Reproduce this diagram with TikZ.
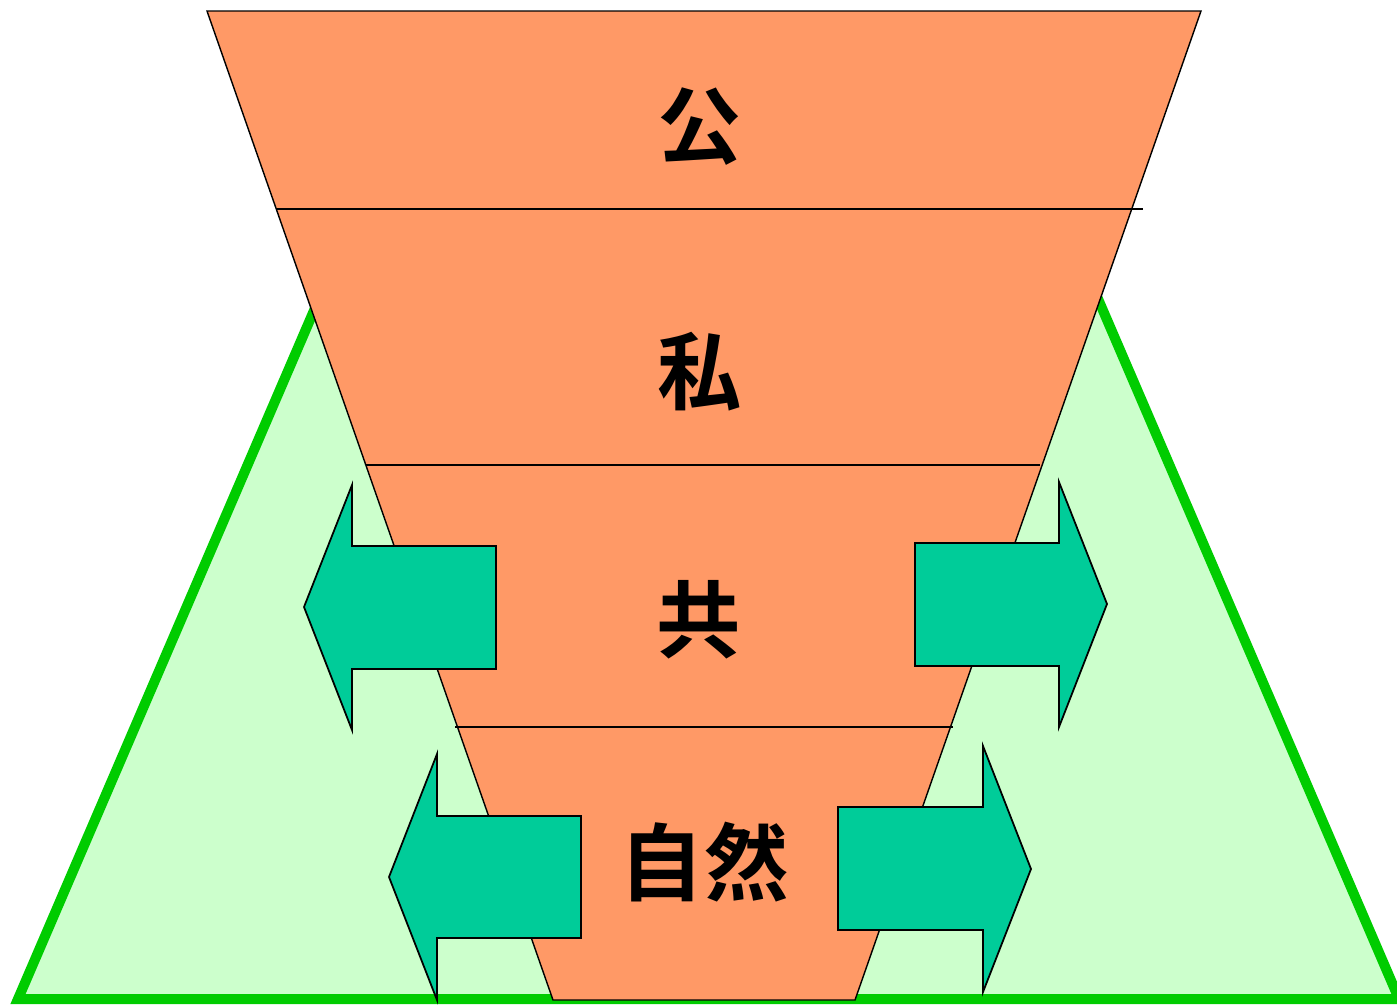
\documentclass[tikz,border=0pt]{standalone}
\usepackage{fontspec}
\newfontfamily\jpfont{Noto Sans CJK JP}[UprightFont=* Bold]
\definecolor{salmon}{HTML}{FF9966}
\definecolor{palegreen}{HTML}{CCFFCC}
\definecolor{rimgreen}{HTML}{00CC00}
\definecolor{arrowgreen}{HTML}{00CC99}
\begin{document}
\begin{tikzpicture}[x=0.02cm,y=-0.02cm,
  arr/.style={draw,line width=1pt,fill=arrowgreen},
  lbl/.style={font=\jpfont\fontsize{48}{48}\selectfont}]
\useasboundingbox (0,0) rectangle (1397,1005);
% green base, top part hidden behind the funnel
\draw[line width=0.2cm,draw=rimgreen,fill=palegreen] (18,999) -- (340,250) -- (1077,250) -- (1399,999) -- cycle;
\draw[fill=salmon,line width=0.8pt] (207,11) -- (1201,11) -- (855,1000) -- (553,1000) -- cycle;
\draw[line width=0.8pt] (276,209) -- (1143,209);
\draw[line width=0.8pt] (366,465) -- (1040,465);
\draw[line width=0.8pt] (455,727) -- (953,727);
%\draw (207,11) -- (553,1000);
\draw[arr] (304,607) -- (352,485) -- (352,546) -- (496,546) -- (496,669) -- (352,669) -- (352,730) -- cycle;
\draw[arr] (1107,604) -- (1059,482) -- (1059,543) -- (915,543) -- (915,666) -- (1059,666) -- (1059,727) -- cycle;
\draw[arr] (389,877) -- (437,754) -- (437,816) -- (581,816) -- (581,938) -- (437,938) -- (437,1000) -- cycle;
\draw[arr] (1031,869) -- (983,746) -- (983,807) -- (838,807) -- (838,930) -- (983,930) -- (983,992) -- cycle;
 \node[lbl] (pub) at (700,127) {公};
 \node[lbl] (priv) at (700,372) {私};
 \node[lbl] (comm) at (699,620) {共};
 \node[lbl] (nat) at (704,862) {自然};
\end{tikzpicture}
\end{document}
